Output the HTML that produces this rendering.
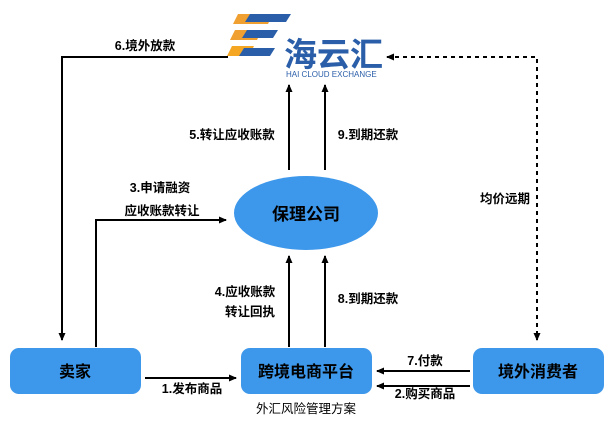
<!DOCTYPE html>
<html><head><meta charset="utf-8"><style>
body{margin:0;background:#fff;}
svg{display:block;font-family:"Liberation Sans","Noto Sans CJK SC",sans-serif;}
</style></head><body>
<svg width="613" height="433" viewBox="0 0 613 433" xmlns="http://www.w3.org/2000/svg">
<defs>
<marker id="a" markerWidth="8" markerHeight="8" refX="7" refY="4" orient="auto" markerUnits="userSpaceOnUse"><path d="M0,0.5 L8,4 L0,7.5 z" fill="#000"/></marker>
<marker id="as" markerWidth="8" markerHeight="8" refX="1" refY="4" orient="auto" markerUnits="userSpaceOnUse"><path d="M8,0.5 L0,4 L8,7.5 z" fill="#000"/></marker>
</defs>
<!-- logo -->
<polygon points="238,14 273,14 268,24 233,24" fill="#f0a030"/>
<polygon points="235,30 262,30 257,40 230,40" fill="#f0a030"/>
<polygon points="232,46 254,46 249,56 227,56" fill="#f5a623"/>
<polygon points="250,14 291,14 286,22 245,22" fill="#2a5ea8"/>
<polygon points="247,30 278,30 273,38 242,38" fill="#2a5ea8"/>
<polygon points="244,48 275,48 270,56 239,56" fill="#2a5ea8"/>
<text x="284" y="66" font-size="33" font-weight="bold" fill="#2a5ea8">海云汇</text>
<text x="286" y="77" font-size="8" fill="#2a5ea8">HAI CLOUD EXCHANGE</text>
<g stroke="#000" stroke-width="2" fill="none">
<polyline points="228,57 62,57 62,340" marker-end="url(#a)"/>
<polyline points="96,347 96,220 226,220" marker-end="url(#a)"/>
<line x1="289" y1="170" x2="289" y2="85" marker-end="url(#a)"/>
<line x1="325" y1="170" x2="325" y2="85" marker-end="url(#a)"/>
<line x1="289" y1="347" x2="289" y2="256" marker-end="url(#a)"/>
<line x1="325" y1="347" x2="325" y2="256" marker-end="url(#a)"/>
<line x1="145" y1="378" x2="236" y2="378" marker-end="url(#a)"/>
<line x1="470" y1="371" x2="377" y2="371" marker-end="url(#a)"/>
<line x1="470" y1="386" x2="377" y2="386" marker-end="url(#a)"/>
<polyline points="387,57 537,57 537,340" stroke-dasharray="4,4" marker-start="url(#as)" marker-end="url(#a)"/>
</g>
<ellipse cx="306" cy="213" rx="72" ry="37" fill="#3d97ea"/>
<text x="306" y="220" font-size="17" font-weight="bold" text-anchor="middle">保理公司</text>
<rect x="10" y="348" width="131" height="46" rx="9" fill="#3d97ea"/>
<rect x="241" y="348" width="131" height="46" rx="9" fill="#3d97ea"/>
<rect x="473" y="348" width="131" height="46" rx="9" fill="#3d97ea"/>
<g font-size="16" font-weight="bold" text-anchor="middle">
<text x="75" y="377">卖家</text>
<text x="306" y="377">跨境电商平台</text>
<text x="538" y="377">境外消费者</text>
</g>
<g font-size="12.5" font-weight="bold" text-anchor="middle">
<text x="145" y="50">6.境外放款</text>
<text x="232" y="139">5.转让应收账款</text>
<text x="368" y="139">9.到期还款</text>
<text x="160" y="192">3.申请融资</text>
<text x="162" y="215">应收账款转让</text>
<text x="245" y="296">4.应收账款</text>
<text x="250" y="316">转让回执</text>
<text x="368" y="303">8.到期还款</text>
<text x="505" y="203">均价远期</text>
<text x="192" y="393">1.发布商品</text>
<text x="425" y="365">7.付款</text>
<text x="425" y="398">2.购买商品</text>
</g>
<text x="306" y="413" font-size="12.5" text-anchor="middle">外汇风险管理方案</text>
</svg>
</body></html>
